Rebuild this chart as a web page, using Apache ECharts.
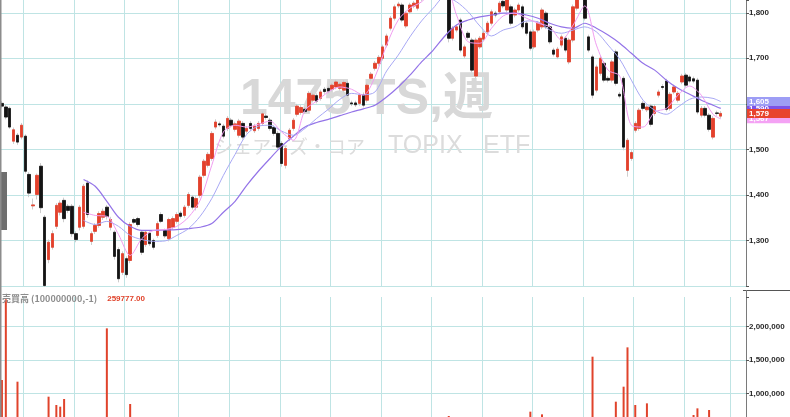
<!DOCTYPE html>
<html><head><meta charset="utf-8">
<script src="https://cdn.jsdelivr.net/npm/echarts@6/dist/echarts.min.js"></script>
<style>html,body{margin:0;padding:0;background:#fff}#c{width:790px;height:417px}</style>
</head><body><div id="c"></div>
<script>
// ---- data (weekly candles) ----
const slotCount = 192;
const categories = Array.from({length: slotCount}, (_, i) => 'W' + (i + 1));
const quarterStarts = [6,19,32,46,59,72,85,98,111,124,137,150,163,176,188];

const opens = [
1601,1593,1590,1518,1531,1527,1529,1445,1376,1401,
1463,1351,1258,1285,1331,1362,1388,1375,1375,1315,
1329,1331,1426,1298,1320,1333,1351,1373,1329,1318,
1280,1230,1260,1256,1346,1348,1318,1291,1316,1300,
1311,1357,1322,1304,1329,1342,1360,1355,1377,1395,
1373,1399,1443,1465,1480,1549,1556,1551,1546,1564,
1544,1531,1557,1540,1557,1541,1546,1557,1573,1564,
1548,1535,1513,1465,1524,1546,1577,1581,1588,1586,
1608,1618,1612,1632,1634,1632,1637,1634,1630,1645,
1602,1602,1601,1620,1608,1656,1678,1689,1700,1729,
1766,1788,1815,1817,1771,1802,1815,1810,1830,1845,
1865,1850,1868,1880,1870,1855,1744,1762,1784,1705,
1755,1740,1661,1725,1742,1758,1777,1799,1802,1825,
1806,1813,1795,1806,1813,1777,1758,1725,1762,1769,
1799,1769,1718,1703,1729,1744,1692,1740,1810,1850,
1845,1747,1703,1630,1667,1689,1656,1652,1714,1621,
1656,1454,1480,1542,1546,1601,1587,1595,1579,1619,
1638,1650,1590,1626,1608,1648,1663,1659,1655,1652,
1575,1590,1575,1527,1580,1573];
const closes = [
1595,1571,1549,1543,1516,1553,1452,1404,1378,1443,
1372,1201,1296,1315,1377,1382,1348,1366,1315,1302,
1373,1419,1357,1315,1333,1359,1364,1353,1346,1265,
1216,1271,1225,1335,1340,1335,1274,1318,1293,1285,
1337,1342,1310,1346,1348,1357,1353,1373,1401,1373,
1392,1439,1474,1489,1535,1560,1554,1529,1568,1553,
1556,1562,1527,1546,1546,1551,1557,1578,1570,1546,
1535,1505,1469,1502,1542,1564,1595,1592,1583,1623,
1619,1606,1626,1627,1628,1641,1648,1643,1647,1619,
1600,1598,1619,1597,1641,1665,1689,1702,1725,1749,
1788,1813,1819,1784,1799,1817,1821,1835,1845,1860,
1850,1870,1880,1860,1855,1744,1766,1769,1718,1725,
1746,1674,1740,1744,1755,1777,1802,1795,1821,1815,
1828,1777,1806,1817,1769,1755,1722,1758,1777,1806,
1769,1736,1709,1720,1747,1718,1740,1813,1845,1855,
1788,1718,1619,1681,1700,1652,1652,1692,1645,1617,
1505,1520,1493,1557,1586,1590,1593,1555,1594,1626,
1636,1588,1621,1637,1623,1661,1641,1650,1650,1582,
1590,1575,1544,1568,1579,1579];
const highs = [
1606,1598,1594,1548,1536,1558,1533,1450,1392,1447,
1470,1356,1302,1322,1382,1388,1394,1380,1380,1320,
1378,1424,1432,1320,1338,1364,1370,1378,1352,1322,
1285,1276,1265,1340,1350,1352,1322,1322,1320,1304,
1342,1362,1326,1350,1353,1362,1365,1378,1406,1400,
1397,1444,1479,1494,1540,1566,1561,1556,1573,1569,
1561,1567,1562,1551,1562,1556,1562,1583,1578,1569,
1553,1540,1518,1507,1547,1569,1600,1597,1593,1628,
1624,1623,1631,1637,1639,1646,1653,1648,1652,1650,
1607,1607,1624,1625,1646,1670,1694,1707,1730,1754,
1793,1818,1824,1822,1804,1822,1826,1840,1850,1865,
1870,1875,1885,1885,1875,1860,1771,1774,1789,1730,
1760,1745,1745,1749,1760,1782,1807,1804,1826,1830,
1833,1818,1811,1822,1818,1782,1763,1763,1782,1811,
1804,1774,1723,1725,1752,1749,1745,1818,1850,1860,
1850,1752,1708,1686,1705,1694,1661,1697,1719,1626,
1661,1525,1498,1562,1591,1606,1598,1600,1599,1631,
1643,1655,1626,1642,1628,1666,1668,1664,1660,1657,
1595,1595,1580,1573,1585,1584];
const lows = [
1590,1566,1545,1512,1510,1522,1447,1395,1368,1390,
1360,1198,1250,1280,1325,1355,1340,1360,1308,1296,
1322,1326,1350,1290,1314,1328,1345,1346,1322,1258,
1208,1224,1218,1250,1336,1330,1268,1286,1288,1280,
1306,1338,1305,1298,1324,1337,1348,1350,1372,1368,
1366,1394,1438,1460,1475,1544,1550,1524,1540,1548,
1539,1526,1522,1535,1541,1536,1541,1552,1565,1541,
1530,1500,1462,1458,1518,1541,1572,1576,1578,1581,
1603,1601,1607,1622,1623,1627,1632,1629,1625,1614,
1595,1593,1596,1592,1603,1651,1673,1684,1695,1724,
1761,1783,1810,1779,1766,1797,1810,1805,1825,1840,
1845,1845,1862,1855,1850,1735,1739,1757,1713,1700,
1741,1669,1656,1720,1737,1753,1772,1790,1797,1810,
1801,1772,1790,1801,1764,1750,1717,1720,1757,1764,
1764,1731,1704,1698,1724,1713,1687,1735,1805,1842,
1783,1713,1612,1625,1662,1647,1647,1647,1640,1612,
1498,1440,1475,1537,1541,1585,1582,1550,1574,1614,
1631,1583,1585,1621,1603,1643,1636,1645,1645,1577,
1570,1570,1539,1522,1574,1568];

// moving averages read at sampled weeks: [weekIndex, value]
const maShort = [[21,1362],[24,1355],[27,1353],[30,1313],[33,1267],[36,1304],[39,1322],[42,1324],[45,1331],[48,1351],[51,1388],[54,1465],[57,1538],[60,1553],[63,1549],[66,1555],[69,1562],[72,1538],[75,1520],[78,1586],[81,1606],[84,1626],[87,1637],[90,1632],[93,1619],[96,1659],[99,1729],[102,1784],[105,1810],[108,1824],[111,1850],[114,1861],[117,1795],[120,1736],[123,1733],[126,1766],[129,1793],[132,1799],[135,1788],[138,1777],[141,1769],[144,1740],[147,1773],[150,1815],[153,1729],[156,1674],[159,1661],[162,1553],[165,1549],[168,1582],[171,1590],[174,1619],[177,1639],[180,1619],[183,1577],[185,1567]];
const maMid = [[21,1344],[24,1335],[27,1342],[30,1331],[33,1311],[36,1302],[39,1298],[42,1299],[45,1311],[48,1326],[51,1353],[54,1392],[57,1443],[60,1489],[63,1533],[66,1551],[69,1553],[72,1540],[75,1531],[78,1546],[81,1568],[84,1588],[87,1610],[90,1623],[93,1620],[96,1626],[99,1672],[102,1707],[105,1747],[108,1782],[111,1810],[114,1835],[117,1824],[120,1802],[123,1771],[126,1749],[129,1762],[132,1769],[135,1782],[138,1780],[141,1762],[144,1755],[147,1762],[150,1769],[153,1758],[156,1729],[159,1698],[162,1652],[165,1608],[168,1586],[171,1577],[174,1593],[177,1610],[180,1615],[183,1612],[185,1605]];
const maLong = [[21,1434],[24,1419],[27,1386],[30,1351],[33,1331],[36,1322],[39,1322],[42,1323],[45,1324],[48,1326],[51,1329],[54,1337],[57,1362],[60,1386],[63,1421],[66,1452],[69,1480],[72,1507],[75,1529],[78,1549],[81,1559],[84,1566],[87,1574],[90,1582],[93,1589],[96,1597],[99,1615],[102,1637],[105,1663],[108,1692],[111,1718],[114,1749],[117,1773],[120,1784],[123,1791],[126,1795],[129,1799],[132,1799],[135,1795],[138,1788],[141,1777],[144,1769],[147,1766],[150,1777],[153,1766],[156,1751],[159,1733],[162,1711],[165,1689],[168,1674],[171,1652],[174,1634],[177,1621],[180,1608],[183,1597],[185,1590]];

// volume (only bars visible in the picture, plus latest value)
const volumes = [[0,1200000],[1,2411000],[4,1175000],[12,950000],[14,825000],[15,800000],[16,915000],[27,1975000],[33,840000],[115,660000],[136,725000],[139,685000],[152,1550000],[158,875000],[160,1100000],[161,1690000],[163,825000],[166,850000],[178,675000],[179,775000],[182,750000],[185,259777]];

const priceTicks = {min: 1200, max: 1828, step: 100};
const volTicks = {min: 0, max: 2445500, step: 500000};

// ---- chart ----
const upColor = '#e5402b', downColor = '#141414', gridColor = '#bfe4e4';
const colShort = '#f09cf0', colMid = '#a8a8f4', colLong = '#9474e8';
const fmt = v => Math.round(v).toLocaleString('en-US');
const qSet = new Set(quarterStarts);
const qFn = (idx) => qSet.has(idx);
const lastOf = arr => arr[arr.length - 1];
const lastIdx = closes.length - 1;

const axisLabelStyle = {margin: 3, fontSize: 8, fontWeight: 'bold', fontFamily: '"Liberation Sans", Arial, sans-serif', color: '#2a2a2a'};

function tagSeries(value, bg, z) {
  return {
    type: 'line', xAxisIndex: 0, yAxisIndex: 0, z: z, silent: true, clip: false,
    data: [[lastIdx, value]], showSymbol: false, lineStyle: {opacity: 0},
    markLine: {
      silent: true, symbol: ['none', 'none'], animation: false, z: z,
      lineStyle: {color: 'rgba(255,255,255,0)', width: 0.01, opacity: 1, type: 'solid'},
      label: {show: true, position: 'end', distance: 1, formatter: p => fmt(p.value), opacity: 1,
        color: '#fff', backgroundColor: bg, fontSize: 8, fontWeight: 'bold',
        fontFamily: '"Liberation Sans", Arial, sans-serif', lineHeight: 9, padding: [0, 30, 0, 2]},
      data: [{yAxis: value}]
    }
  };
}

const chart = echarts.init(document.getElementById('c'), null, {renderer: 'canvas'});
chart.setOption({
  animation: false,
  backgroundColor: '#ffffff',
  title: {
    left: 2, top: 290, padding: 0,
    text: '{a|売買高 (100000000,-1)}  {b|' + lastOf(volumes)[1].toFixed(2) + '}',
    textStyle: {rich: {
      a: {fontSize: 9, color: '#8c8c8c', fontFamily: '"Noto Sans CJK JP", sans-serif'},
      b: {fontSize: 8, color: '#e0432b', fontWeight: 'bold', fontFamily: '"Liberation Sans", Arial, sans-serif'}
    }}
  },
  grid: [
    {left: 0, top: 0, width: 746, height: 286, containLabel: false, outerBoundsMode: 'none'},
    {left: 0, top: 297, width: 746, height: 163, containLabel: false, outerBoundsMode: 'none'}
  ],
  xAxis: [0, 1].map(g => ({
    type: 'category', gridIndex: g, data: categories, boundaryGap: true,
    axisLine: {show: false}, axisTick: {show: false, interval: qFn}, axisLabel: {show: false, interval: qFn},
    splitLine: {show: true, interval: qFn, lineStyle: {color: gridColor, width: 1}}
  })),
  yAxis: [
    {type: 'value', gridIndex: 0, position: 'right', min: priceTicks.min, max: priceTicks.max, interval: priceTicks.step, scale: false,
     axisLine: {show: true, onZero: false, lineStyle: {color: '#7a7a7a'}},
     axisTick: {show: true, length: 3, lineStyle: {color: '#555'}},
     axisLabel: Object.assign({formatter: v => (v >= 1300 && v <= 1800) ? fmt(v) : ''}, axisLabelStyle),
     splitLine: {show: true, showMaxLine: false, lineStyle: {color: gridColor}}},
    {type: 'value', gridIndex: 1, position: 'right', min: volTicks.min, max: volTicks.max, interval: volTicks.step,
     axisLine: {show: true, onZero: false, lineStyle: {color: '#7a7a7a'}},
     axisTick: {show: true, length: 3, lineStyle: {color: '#555'}},
     axisLabel: Object.assign({formatter: v => (v >= 1000000 && v <= 2000000) ? fmt(v) : ''}, axisLabelStyle),
     splitLine: {show: true, showMaxLine: false, lineStyle: {color: gridColor}}}
  ],
  graphic: [
    {type: 'text', z: 1, x: 240, y: 100, silent: true, style: {text: '1475 TS,週', font: 'bold 50px "Liberation Sans", "Noto Sans CJK JP", sans-serif', fill: '#d8d8d8', align: 'left', verticalAlign: 'middle'}},
    {type: 'text', z: 1, x: 209, y: 147, silent: true, style: {text: 'iシェアーズ・コア', font: '19px "Noto Sans CJK JP", sans-serif', fill: '#dcdcdc', align: 'left', verticalAlign: 'middle'}},
    {type: 'text', z: 1, x: 388, y: 146, silent: true, style: {text: 'TOPIX', font: '25px "Liberation Sans", sans-serif', fill: '#dcdcdc', align: 'left', verticalAlign: 'middle'}},
    {type: 'text', z: 1, x: 483, y: 146, silent: true, style: {text: 'ETF', font: '25px "Liberation Sans", sans-serif', fill: '#dcdcdc', align: 'left', verticalAlign: 'middle'}},
    {type: 'rect', z: 20, silent: true, shape: {x: 0, y: 172, width: 7, height: 58}, style: {fill: '#6e6e6e'}},
    {type: 'line', z: 20, silent: true, shape: {x1: 0.75, y1: 0, x2: 0.75, y2: 417}, style: {stroke: '#8c8c8c', lineWidth: 1.5}},
    {type: 'line', z: 20, silent: true, shape: {x1: 743, y1: 290.5, x2: 790, y2: 290.5}, style: {stroke: '#555', lineWidth: 1}},
    {type: 'line', z: 20, silent: true, shape: {x1: 746.5, y1: 290, x2: 746.5, y2: 297}, style: {stroke: '#7a7a7a', lineWidth: 1}}
  ],
  series: [
    {name: 'wick', type: 'candlestick', xAxisIndex: 0, yAxisIndex: 0, z: 2, barWidth: 3, silent: true, clip: true,
     data: opens.map((o, i) => [o, closes[i], lows[i], highs[i]]),
     itemStyle: {color: 'rgba(0,0,0,0)', color0: 'rgba(0,0,0,0)', borderColor: '#cdcdcd', borderColor0: '#cdcdcd', borderWidth: 1}},
    {name: 'body', type: 'candlestick', xAxisIndex: 0, yAxisIndex: 0, z: 3, barWidth: 3, silent: true, clip: true,
     data: opens.map((o, i) => [o, closes[i], Math.min(o, closes[i]), Math.max(o, closes[i])]),
     itemStyle: {color: upColor, color0: downColor, borderColor: upColor, borderColor0: downColor, borderWidth: 0.8}},
    {name: 'MA long', type: 'line', xAxisIndex: 0, yAxisIndex: 0, z: 4, data: maLong, showSymbol: false, smooth: 0.3, clip: true, silent: true,
     lineStyle: {color: colLong, width: 1.2}},
    {name: 'MA mid', type: 'line', xAxisIndex: 0, yAxisIndex: 0, z: 4, data: maMid, showSymbol: false, smooth: 0.3, clip: true, silent: true,
     lineStyle: {color: colMid, width: 1}},
    {name: 'MA short', type: 'line', xAxisIndex: 0, yAxisIndex: 0, z: 4, data: maShort, showSymbol: false, smooth: 0.3, clip: true, silent: true,
     lineStyle: {color: colShort, width: 1}},
    {name: 'volume', type: 'bar', xAxisIndex: 1, yAxisIndex: 1, z: 2, data: volumes, barWidth: 2, silent: true,
     itemStyle: {color: '#e0432b'}},
    tagSeries(lastOf(maLong)[1], '#7d52e6', 5),
    tagSeries(lastOf(maShort)[1], '#f4a2f4', 6),
    tagSeries(lastOf(maMid)[1], '#9d9df5', 7),
    tagSeries(closes[lastIdx], '#e8432e', 8)
  ]
});
</script></body></html>
